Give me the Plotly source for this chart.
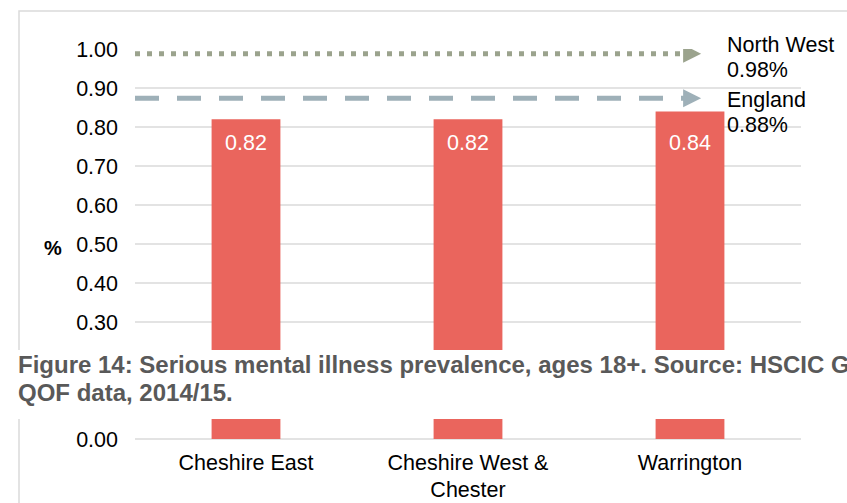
import plotly.graph_objects as go

# ---- data ----
categories = ["Cheshire East", "Cheshire West &<br>Chester", "Warrington"]
values = [0.82, 0.82, 0.84]
value_labels = ["0.82", "0.82", "0.84"]

benchmark_names = ["North West", "England"]
benchmark_levels = [0.988, 0.874]          # drawn level
benchmark_labels = ["0.98%", "0.88%"]

y_ticks = [0.0, 0.1, 0.2, 0.3, 0.4, 0.5, 0.6, 0.7, 0.8, 0.9, 1.0]
y_ticktext = ["0.00", "0.10", "0.20", "0.30", "0.40", "0.50", "0.60", "0.70", "0.80", "0.90", "1.00"]

caption_lines = [
    "Figure 14: Serious mental illness prevalence, ages 18+. Source: HSCIC GP",
    "QOF data, 2014/15.",
]

# ---- style ----
W, H = 847, 503
ML, MR, MT, MB = 135, 46, 49, 64
PW, PH = W - ML - MR, H - MT - MB
FONT = "Liberation Sans, Arial, sans-serif"
BAR = "#EA655D"
NW_COL = "#9BA38D"
ENG_COL = "#9EB0B8"
GRID = "#E3E3E3"


def px_x(p):
    return (p - ML) / PW


def px_y(p):
    return (H - MB - p) / PH


fig = go.Figure()

fig.add_trace(go.Bar(
    x=categories, y=values, marker_color=BAR, marker_line_width=0,
    width=0.31, hoverinfo="skip", showlegend=False,
))

line_styles = [dict(color=NW_COL, width=5, dash="5px,7px"),
               dict(color=ENG_COL, width=5, dash="24px,18px")]
for lvl, st in zip(benchmark_levels, line_styles):
    fig.add_trace(go.Scatter(
        x=[0.0, 0.825], y=[lvl, lvl], xaxis="x2", yaxis="y",
        mode="lines", line=st, hoverinfo="skip", showlegend=False,
    ))
    fig.add_trace(go.Scatter(
        x=[0.85], y=[lvl], xaxis="x2", yaxis="y", mode="markers",
        marker=dict(symbol="arrow-right", size=18, color=st["color"], line_width=0),
        hoverinfo="skip", showlegend=False,
    ))

annotations = []
# bar value labels
for c, t in zip(categories, value_labels):
    annotations.append(dict(
        x=c, xref="x", y=px_y(143), yref="paper", text=t, showarrow=False,
        yanchor="middle", xanchor="center",
        font=dict(family=FONT, size=21.5, color="white"),
    ))

# benchmark labels
name_shift = [9, -2]
val_shift = [-16, -27]
for n, lvl, lab, s1, s2 in zip(benchmark_names, benchmark_levels, benchmark_labels, name_shift, val_shift):
    for txt, sh in ((n, s1), (lab, s2)):
        annotations.append(dict(
            x=px_x(725), xref="paper", y=lvl, yref="y", yshift=sh, text=txt,
            showarrow=False, xanchor="left", yanchor="middle",
            font=dict(family=FONT, size=21.5, color="#000000"),
        ))

# y-axis title "%"
annotations.append(dict(
    x=px_x(53), xref="paper", y=px_y(248), yref="paper", text="<b>%</b>",
    showarrow=False, xanchor="center", yanchor="middle",
    font=dict(family=FONT, size=20, color="#000000"),
))

# caption
for i, (line, yc) in enumerate(zip(caption_lines, [364, 392])):
    annotations.append(dict(
        x=px_x(16), xref="paper", y=px_y(yc), yref="paper", text="<b>" + line + "</b>",
        showarrow=False, xanchor="left", yanchor="middle",
        font=dict(family=FONT, size=24, color="#595959"),
    ))

shapes = [
    # outer frame
    dict(type="rect", xref="paper", yref="paper",
         x0=px_x(19), x1=px_x(W + 30), y0=px_y(H + 30), y1=px_y(11),
         line=dict(color="#DADADA", width=1.5), fillcolor="rgba(0,0,0,0)", layer="below"),
    # caption band covering chart
    dict(type="rect", xref="paper", yref="paper",
         x0=px_x(-10), x1=px_x(W + 10), y0=px_y(419), y1=px_y(350),
         line=dict(width=0), fillcolor="white", layer="above"),
]

fig.update_layout(
    width=W, height=H,
    margin=dict(l=ML, r=MR, t=MT, b=MB, pad=0, autoexpand=False),
    paper_bgcolor="white", plot_bgcolor="white",
    font=dict(family=FONT, size=21, color="#000000"),
    bargap=0.69,
    xaxis=dict(
        type="category", showgrid=False, showline=False, zeroline=False,
        ticks="", tickfont=dict(family=FONT, size=21.5, color="#000000"),
        ticklabelstandoff=8, automargin=False,
    ),
    xaxis2=dict(range=[0, 1], overlaying="x", anchor="y", visible=False, fixedrange=True),
    yaxis=dict(
        range=[0, 1.0], tickvals=y_ticks, ticktext=y_ticktext,
        showgrid=True, gridcolor=GRID, gridwidth=1.5,
        zeroline=True, zerolinecolor=GRID, zerolinewidth=1.5,
        showline=False, ticks="", ticklabelstandoff=16, automargin=False,
        tickfont=dict(family=FONT, size=21.5, color="#000000"),
    ),
    annotations=annotations,
    shapes=shapes,
)

fig.write_html("out.html")
